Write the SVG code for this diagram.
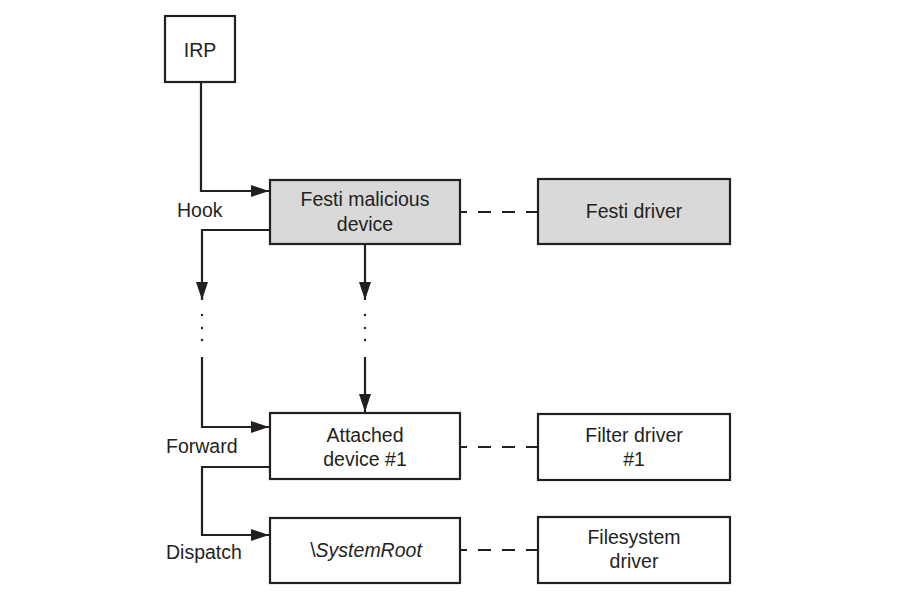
<svg xmlns="http://www.w3.org/2000/svg" width="900" height="600" viewBox="0 0 900 600">
<style>
.box{fill:#fff;stroke:#231f20;stroke-width:2.2}
.grey{fill:#d9d9d9}
text{font-family:"Liberation Sans",Arial,sans-serif;font-size:19.5px;fill:#231f20}
.c{text-anchor:middle}
.ln{fill:none;stroke:#231f20;stroke-width:2.2}
.dash{fill:none;stroke:#231f20;stroke-width:2.2;stroke-dasharray:13 11;stroke-dashoffset:6}
.dot{fill:#231f20}
</style>
<defs>
<marker id="ah" markerUnits="userSpaceOnUse" markerWidth="20" markerHeight="12" refX="18" refY="6" orient="auto">
<path d="M0,0 L18,6 L0,12 Z" fill="#231f20"/>
</marker>
</defs>
<rect width="900" height="600" fill="#fff"/>
<g id="connectors">
<path class="ln" d="M201,82 V191 H269" marker-end="url(#ah)"/>
<path class="ln" d="M270,230 H202 V300" marker-end="url(#ah)"/>
<path class="ln" d="M365,244 V300" marker-end="url(#ah)"/>
<path class="ln" d="M202,357 V427 H269" marker-end="url(#ah)"/>
<path class="ln" d="M365,357 V412" marker-end="url(#ah)"/>
<path class="ln" d="M270,467 H202 V535 H269" marker-end="url(#ah)"/>
<circle class="dot" cx="202" cy="315" r="1.2"/>
<circle class="dot" cx="202" cy="328" r="1.2"/>
<circle class="dot" cx="202" cy="340" r="1.2"/>
<circle class="dot" cx="365" cy="315" r="1.2"/>
<circle class="dot" cx="365" cy="328" r="1.2"/>
<circle class="dot" cx="365" cy="340" r="1.2"/>
<path class="dash" d="M460,212 H538"/>
<path class="dash" d="M460,447 H538"/>
<path class="dash" d="M460,550 H538"/>
<text x="177" y="217">Hook</text>
<text x="166" y="453">Forward</text>
<text x="166" y="559">Dispatch</text>
</g>
<g id="irp">
<rect class="box" x="165" y="16" width="70" height="66"/>
<text class="c" x="200" y="57">IRP</text>
</g>
<g id="festi-device">
<rect class="box grey" x="270" y="180" width="190" height="64"/>
<text class="c" x="365" y="206">Festi malicious</text>
<text class="c" x="365" y="231">device</text>
</g>
<g id="festi-driver">
<rect class="box grey" x="538" y="179" width="192" height="65"/>
<text class="c" x="634" y="218">Festi driver</text>
</g>
<g id="attached-device">
<rect class="box" x="270" y="413" width="190" height="66"/>
<text class="c" x="365" y="442">Attached</text>
<text class="c" x="365" y="466">device #1</text>
</g>
<g id="filter-driver">
<rect class="box" x="538" y="414" width="192" height="66"/>
<text class="c" x="634" y="442">Filter driver</text>
<text class="c" x="634" y="466">#1</text>
</g>
<g id="systemroot">
<rect class="box" x="270" y="518" width="190" height="65"/>
<text class="c" x="366" y="557">\<tspan font-style="italic">SystemRoot</tspan></text>
</g>
<g id="filesystem-driver">
<rect class="box" x="538" y="517" width="192" height="66"/>
<text class="c" x="634" y="544">Filesystem</text>
<text class="c" x="634" y="568">driver</text>
</g>
</svg>
